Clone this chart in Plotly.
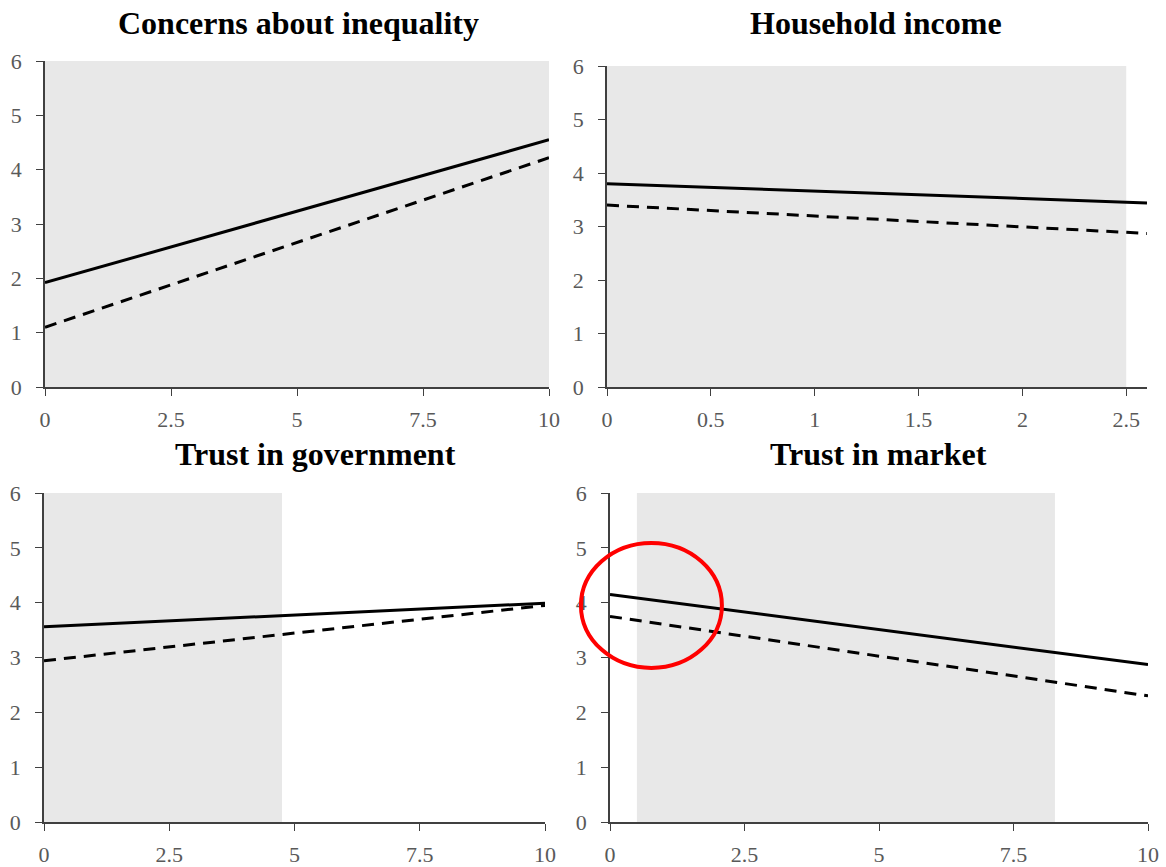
import plotly.graph_objects as go

W, H = 1166, 867
FONT = "Liberation Serif, Times New Roman, serif"
SHADE = "#E8E8E8"
TICK_GREY = "#595959"
AXIS = "#404040"

titles = ["Concerns about inequality", "Household income", "Trust in government", "Trust in market"]

# fitted lines: value at start and end of x range
x_start = [0, 0, 0, 0]
x_end = [10, 2.6, 10, 10]
solid_start = [1.92, 3.80, 3.56, 4.15]
solid_end = [4.55, 3.44, 3.99, 2.87]
dashed_start = [1.10, 3.40, 2.94, 3.75]
dashed_end = [4.22, 2.87, 3.95, 2.30]

# shaded region (x0, x1) per panel
shade_x0 = [0, 0, 0, 0.5]
shade_x1 = [10, 2.5, 4.75, 8.27]

x_ranges = [[0, 10], [0, 2.6], [0, 10], [0, 10]]
x_dticks = [2.5, 0.5, 2.5, 2.5]

# highlighted ellipse in panel 4, data units
ell_x = [-0.54, 2.08]
ell_y = [2.81, 5.09]

# panel boxes in pixels: left, right, top, bottom
boxes = [(45, 549, 61, 387), (607, 1147, 66, 387), (44, 545, 493, 822), (610, 1148, 493, 822)]
title_pos = [(298, 23), (876, 23), (315, 454), (878, 454)]


def px_x(p):
    return p / W


def px_y(p):
    return 1 - p / H


fig = go.Figure()
layout = {}
for i in range(4):
    n = "" if i == 0 else str(i + 1)
    xa, ya = "x" + n, "y" + n
    l, r, t, b = boxes[i]
    fig.add_trace(go.Scatter(
        x=[x_start[i], x_end[i]], y=[solid_start[i], solid_end[i]],
        mode="lines", line=dict(color="black", width=3),
        xaxis=xa, yaxis=ya, showlegend=False, hoverinfo="skip",
    ))
    fig.add_trace(go.Scatter(
        x=[x_start[i], x_end[i]], y=[dashed_start[i], dashed_end[i]],
        mode="lines", line=dict(color="black", width=3, dash="12px,8px"),
        xaxis=xa, yaxis=ya, showlegend=False, hoverinfo="skip",
    ))
    fig.add_shape(type="rect", xref=xa, yref=ya,
                  x0=shade_x0[i], x1=shade_x1[i], y0=0, y1=6,
                  fillcolor=SHADE, line_width=0, layer="below")
    layout["xaxis" + n] = dict(
        domain=[px_x(l), px_x(r)], range=x_ranges[i], anchor=ya,
        tick0=0, dtick=x_dticks[i], ticks="outside", ticklen=7, tickcolor=AXIS,
        showline=True, linecolor=AXIS, linewidth=1.5, showgrid=False, zeroline=False,
        tickfont=dict(family=FONT, size=22, color=TICK_GREY), ticklabelstandoff=5,
        automargin=False,
    )
    layout["yaxis" + n] = dict(
        domain=[px_y(b), px_y(t)], range=[0, 6], anchor=xa,
        dtick=1, ticks="outside", ticklen=7, tickcolor=AXIS,
        showline=True, linecolor=AXIS, linewidth=1.5, showgrid=False, zeroline=False,
        tickfont=dict(family=FONT, size=22, color=TICK_GREY), ticklabelstandoff=10,
        automargin=False,
    )
    fig.add_annotation(
        text="<b>" + titles[i] + "</b>", xref="paper", yref="paper",
        x=px_x(title_pos[i][0]), y=px_y(title_pos[i][1]),
        xanchor="center", yanchor="middle", showarrow=False,
        font=dict(family=FONT, size=32, color="black"),
    )


def to_paper(v, rng, dom):
    return dom[0] + (v - rng[0]) / (rng[1] - rng[0]) * (dom[1] - dom[0])


fig.add_shape(
    type="circle", xref="paper", yref="paper",
    x0=to_paper(ell_x[0], x_ranges[3], layout["xaxis4"]["domain"]),
    x1=to_paper(ell_x[1], x_ranges[3], layout["xaxis4"]["domain"]),
    y0=to_paper(ell_y[0], [0, 6], layout["yaxis4"]["domain"]),
    y1=to_paper(ell_y[1], [0, 6], layout["yaxis4"]["domain"]),
    line=dict(color="#FF0000", width=4),
)

fig.update_layout(
    width=W, height=H,
    margin=dict(l=0, r=0, t=0, b=0),
    paper_bgcolor="white", plot_bgcolor="white",
    font=dict(family=FONT),
    **layout,
)
fig.write_html("out.html", config={"displayModeBar": False},
               post_script="document.body.style.margin='0';")
